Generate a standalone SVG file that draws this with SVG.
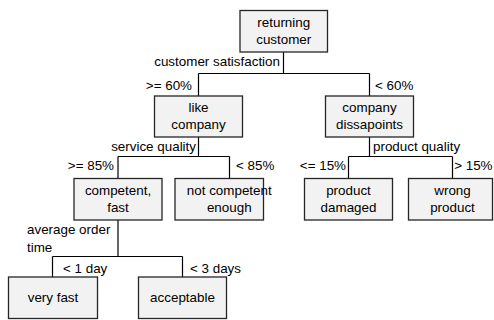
<svg xmlns="http://www.w3.org/2000/svg" width="494" height="320" viewBox="0 0 494 320">
<style>
.box{fill:#f2f2f2;stroke:#262626;stroke-width:1.3}
.ln{fill:none;stroke:#000;stroke-width:1.2}
text{font-family:"Liberation Sans",Arial,sans-serif;font-size:13.4px;fill:#000}
.c{text-anchor:middle}
.r{text-anchor:end}
</style>
<rect width="494" height="320" fill="#fff"/>
<g id="connectors">
<path class="ln" d="M283.5 52V73.5M198.5 73.5H369.5M198.5 73.5V96M369.5 73.5V96"/>
<path class="ln" d="M198.5 137V156.5M118 156.5H229.5M118 156.5V178.5M229.5 156.5V178.5"/>
<path class="ln" d="M369.5 137V156.5M348.5 156.5H452.5M348.5 156.5V178.5M452.5 156.5V178.5"/>
<path class="ln" d="M118 220V256.5M52.5 256.5H182.5M52.5 256.5V277M182.5 256.5V277"/>
<text class="r" x="280" y="66">customer satisfaction</text>
<text class="r" x="192" y="90">&gt;= 60%</text>
<text x="375" y="90">&lt; 60%</text>
<text class="r" x="196" y="151">service quality</text>
<text class="r" x="114" y="170">&gt;= 85%</text>
<text x="236" y="170">&lt; 85%</text>
<text x="373" y="151">product quality</text>
<text class="r" x="346" y="170">&lt;= 15%</text>
<text class="r" x="492.5" y="170">&gt; 15%</text>
<text x="27" y="234">average order</text>
<text x="27" y="252">time</text>
<text x="63" y="273">&lt; 1 day</text>
<text x="190" y="273">&lt; 3 days</text>
</g>
<g id="returning-customer"><rect class="box" x="240" y="10.5" width="87.5" height="41.5"/><text class="c" x="283.75" y="27">returning</text><text class="c" x="283.75" y="44">customer</text></g>
<g id="like-company"><rect class="box" x="154.5" y="96" width="88" height="41"/><text class="c" x="198.5" y="112">like</text><text class="c" x="198.5" y="129">company</text></g>
<g id="company-dissapoints"><rect class="box" x="325.5" y="96" width="88" height="41"/><text class="c" x="369.5" y="112">company</text><text class="c" x="369.5" y="129">dissapoints</text></g>
<g id="competent-fast"><rect class="box" x="74" y="178.5" width="88" height="41.5"/><text class="c" x="118" y="195">competent,</text><text class="c" x="118" y="212">fast</text></g>
<g id="not-competent"><rect class="box" x="175" y="178.5" width="88.5" height="41.5"/><text class="c" x="229.25" y="195">not competent</text><text class="c" x="229.25" y="212">enough</text></g>
<g id="product-damaged"><rect class="box" x="304.5" y="178.5" width="88" height="41.5"/><text class="c" x="348.5" y="195">product</text><text class="c" x="348.5" y="212">damaged</text></g>
<g id="wrong-product"><rect class="box" x="408.5" y="178.5" width="84" height="41.5"/><text class="c" x="452.5" y="195">wrong</text><text class="c" x="452.5" y="212">product</text></g>
<g id="very-fast"><rect class="box" x="8.5" y="277" width="89" height="41.5"/><text class="c" x="53" y="302">very fast</text></g>
<g id="acceptable"><rect class="box" x="138.5" y="277" width="88" height="41.5"/><text class="c" x="182.5" y="302">acceptable</text></g>
</svg>
